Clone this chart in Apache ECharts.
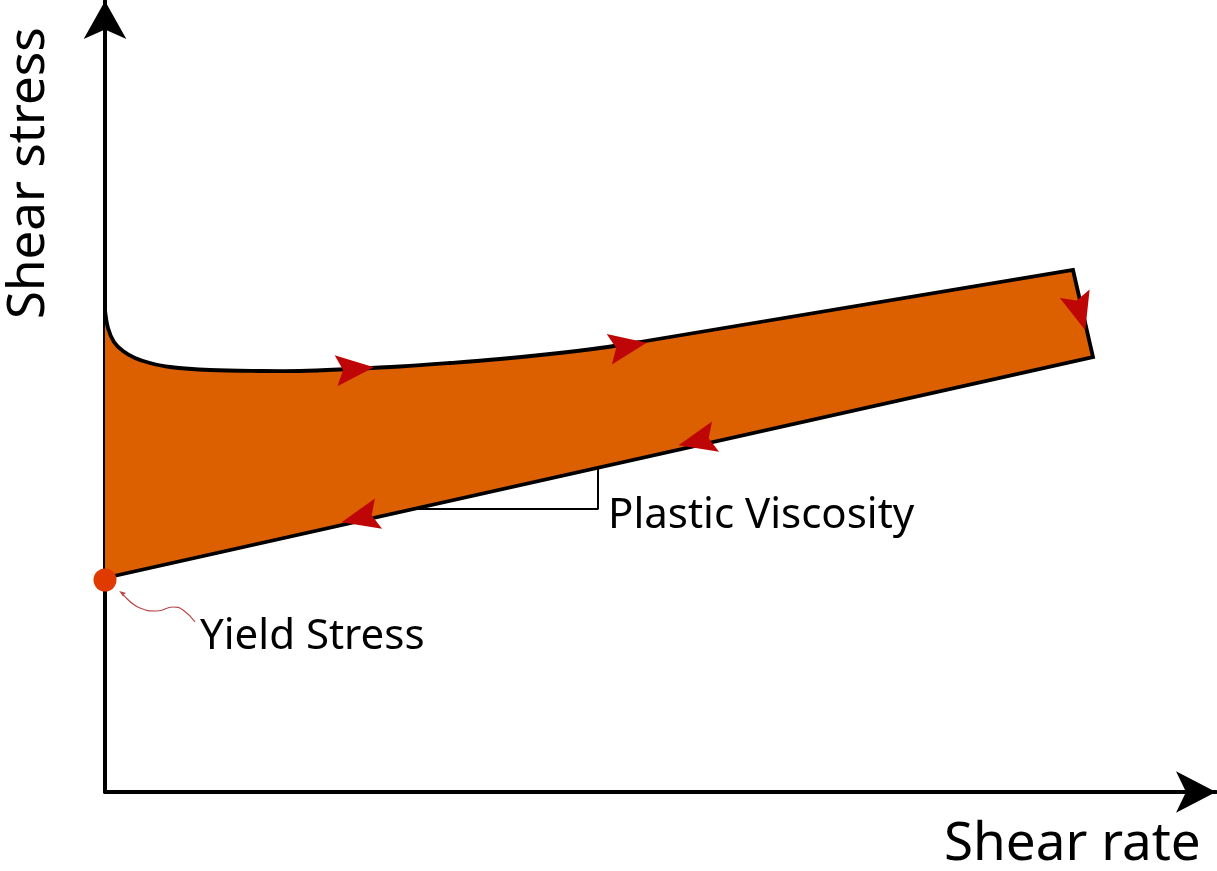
<!DOCTYPE html>
<html>
<head>
<meta charset="utf-8">
<script src="https://cdn.jsdelivr.net/npm/echarts@6/dist/echarts.min.js"></script>
<style>
html,body{margin:0;padding:0;background:#fff;}
#chart{width:1217px;height:871px;}
</style>
</head>
<body>
<div id="chart"></div>
<script>
// ---- data (schematic units) ----
const xAxisTitle = 'Shear rate';
const yAxisTitle = 'Shear stress';
const yieldLabel = 'Yield Stress';
const viscosityLabel = 'Plastic Viscosity';

// upper (ramp-up) curve of the loop
const upperCurve = [
  [0, 48.2], [0.3, 46.4], [0.9, 45.0], [1.8, 44.1], [3.0, 43.4], [4.5, 42.9], [6.5, 42.5],
  [10.5, 42.2], [15.5, 42.1], [19.5, 42.1], [24.5, 42.3], [29.5, 42.55],
  [34.5, 42.9], [39.5, 43.3], [44.5, 43.8], [49.5, 44.4], [53.5, 45.0]
];
const upperLineEnd = [96.8, 52.2];
// right edge end and lower (ramp-down) line
const lowerLine = [[98.8, 43.5], [0, 21.4]];
// direction arrows: [x, y, towardX, towardY]
const flowArrows = [
  [25.0, 42.3, 35.0, 43.2],
  [52.3, 44.6, 96.8, 52.2],
  [97.5, 48.0, 98.8, 43.5],
  [59.2, 35.1, 0, 21.4],
  [25.5, 27.4, 0, 21.4]
];
const yieldPoint = [0, 21.2];
const pointerCurve = [[1.7, 19.9], [3.5, 18.4], [5.2, 18.1], [6.8, 18.5], [7.8, 18.2], [9.0, 17.0]];
const pointerHead = [[1.7, 19.9, 0.2, 21.0]];
const slopeBracket = [[31.0, 28.3], [49.3, 28.3], [49.3, 32.6]];
const yieldLabelPos = [9.5, 15.5];
const viscosityLabelPos = [50.3, 27.6];

const X_MAX = 111.1, Y_MAX = 79.1;

function arrowShape(api, item, L, W, notch) {
  const p = api.coord([item[0], item[1]]);
  const q = api.coord([item[2], item[3]]);
  const a = Math.atan2(q[1] - p[1], q[0] - p[0]);
  const c = Math.cos(a), s = Math.sin(a);
  const local = [[L / 2, 0], [-L / 2, -W / 2], [-L / 2 + notch, 0], [-L / 2, W / 2]];
  return local.map(([u, v]) => [p[0] + u * c - v * s, p[1] + u * s + v * c]);
}

const FONT_MID = '42px "Noto Sans"';
const FONT_BIG = '51px "Noto Sans"';
const FONT_XT = '53px "Noto Sans"';

const chart = echarts.init(document.getElementById('chart'));
const option = {
  animation: false,
  backgroundColor: '#ffffff',
  grid: { left: 105, right: 1, top: 1, bottom: 79 },
  xAxis: {
    type: 'value', min: 0, max: X_MAX,
    axisLine: { show: true, onZero: false, symbol: ['none', 'arrow'], symbolSize: [31, 40],
      lineStyle: { color: '#000', width: 4 } },
    axisTick: { show: false }, axisLabel: { show: false }, splitLine: { show: false }
  },
  yAxis: {
    type: 'value', min: 0, max: Y_MAX,
    axisLine: { show: true, onZero: false, symbol: ['none', 'arrow'], symbolSize: [32, 38],
      lineStyle: { color: '#000', width: 4 } },
    axisTick: { show: false }, axisLabel: { show: false }, splitLine: { show: false }
  },
  graphic: [
    { type: 'text', x: 944, y: 845, style: { text: xAxisTitle, font: FONT_XT, fill: '#000', textVerticalAlign: 'middle' } },
    { type: 'text', x: 29, y: 319, rotation: Math.PI / 2,
      style: { text: yAxisTitle, font: FONT_BIG, fill: '#000', textVerticalAlign: 'middle', textAlign: 'left' } }
  ],
  series: [
    {
      type: 'custom', z: 3, silent: true,
      data: [0],
      renderItem: function (params, api) {
        const curve = upperCurve.map(d => api.coord(d));
        const rest = [upperLineEnd].concat(lowerLine).map(d => api.coord(d));
        return {
          type: 'group',
          children: [
            { type: 'polygon', shape: { points: curve.concat(rest) }, style: { fill: '#DC5F00' } },
            { type: 'polyline', shape: { points: curve, smooth: 0.35 },
              style: { stroke: '#000', lineWidth: 3.8, fill: null } },
            { type: 'polyline', shape: { points: [curve[curve.length - 1]].concat(rest) },
              style: { stroke: '#000', lineWidth: 3.8, fill: null, lineJoin: 'miter' } }
          ]
        };
      }
    },
    {
      type: 'line', z: 4, data: slopeBracket, showSymbol: false, silent: true,
      lineStyle: { color: '#000', width: 2 }
    },
    {
      type: 'custom', z: 5, silent: true,
      data: flowArrows,
      renderItem: function (params, api) {
        const item = flowArrows[params.dataIndex];
        return { type: 'polygon', shape: { points: arrowShape(api, item, 38, 31, 7) },
          style: { fill: '#BF0606' } };
      }
    },
    {
      type: 'line', z: 5, data: pointerCurve, smooth: true, showSymbol: false, silent: true,
      lineStyle: { color: '#B54848', width: 1.2 }
    },
    {
      type: 'custom', z: 5, silent: true,
      data: pointerHead,
      renderItem: function (params, api) {
        const item = pointerHead[params.dataIndex];
        return { type: 'polygon', shape: { points: arrowShape(api, item, 7, 5, 1.5) },
          style: { fill: '#B54848' } };
      }
    },
    {
      type: 'scatter', z: 6, data: [yieldPoint], symbolSize: 23, silent: true,
      itemStyle: { color: '#E03A00', opacity: 1 }
    },
    {
      type: 'custom', z: 6, silent: true, data: [yieldLabelPos],
      renderItem: function (params, api) {
        const p = api.coord(yieldLabelPos);
        return { type: 'text', x: p[0], y: p[1],
          style: { text: yieldLabel, font: FONT_MID, fill: '#000', textVerticalAlign: 'middle' } };
      }
    },
    {
      type: 'custom', z: 6, silent: true, data: [viscosityLabelPos],
      renderItem: function (params, api) {
        const p = api.coord(viscosityLabelPos);
        return { type: 'text', x: p[0], y: p[1],
          style: { text: viscosityLabel, font: FONT_MID, fill: '#000', textVerticalAlign: 'middle' } };
      }
    }
  ]
};
chart.setOption(option);
</script>
</body>
</html>
